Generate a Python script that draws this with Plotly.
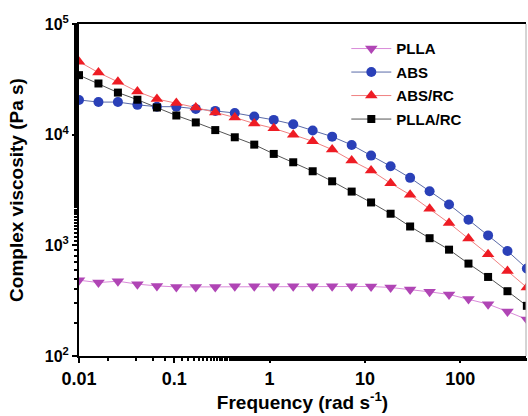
import plotly.graph_objects as go

freq = [0.01, 0.0160, 0.0256, 0.0410, 0.0657, 0.105, 0.168, 0.269, 0.431, 0.690,
        1.105, 1.769, 2.83, 4.53, 7.26, 11.6, 18.6, 29.8, 47.7, 76.3, 122, 196, 313, 500]

plla = [484, 461, 474, 446, 430, 421, 421, 421, 427, 427, 427, 427,
        427, 427, 427, 425, 416, 399, 380, 360, 328, 294, 252, 214]
abs_ = [20600, 19700, 19700, 18600, 17900, 17900, 17100, 16400, 15700, 14600, 13600, 12400,
        10900, 9600, 8070, 6470, 5180, 4070, 3080, 2340, 1700, 1230, 889, 617]
abs_rc = [45700, 36400, 30000, 24500, 21000, 19300, 17600, 15900, 14300, 12600, 11400, 10000,
          8700, 7330, 5830, 4740, 3640, 2860, 2140, 1590, 1150, 829, 586, 416]
plla_rc = [34500, 29000, 24000, 20700, 17600, 14900, 12900, 11000, 9470, 8130, 6700, 5630,
           4670, 3790, 3060, 2440, 1930, 1480, 1160, 914, 684, 518, 385, 284]

names = ["PLLA", "ABS", "ABS/RC", "PLLA/RC"]
series = [plla, abs_, abs_rc, plla_rc]
marker_colors = ["#b045b5", "#2a40b8", "#ee1c24", "#000000"]
line_colors = ["#d98ad9", "#5a6aa8", "#f08080", "#555555"]
symbols = ["triangle-down", "circle", "triangle-up", "square"]
sizes = [11, 10, 11, 8]

x_ticks = [0.01, 0.1, 1, 10, 100]
x_ticktext = ["0.01", "0.1", "1", "10", "100"]
y_ticks = [100, 1000, 10000, 100000]
y_ticktext = ["10<sup>2</sup>", "10<sup>3</sup>", "10<sup>4</sup>", "10<sup>5</sup>"]

FONT = "Arial, Liberation Sans, sans-serif"

fig = go.Figure()
for i, (nm, ys) in enumerate(zip(names, series)):
    fig.add_trace(go.Scatter(
        x=freq, y=ys, name=nm, mode="lines+markers",
        legendgroup=nm,
        line=dict(color=line_colors[i], width=1),
        marker=dict(symbol=symbols[i], size=sizes[i], color=marker_colors[i],
                    line=dict(width=0)),
        cliponaxis=True,
    ))

fig.update_layout(
    width=528, height=416,
    margin=dict(l=79, r=2, t=24, b=60),
    paper_bgcolor="white", plot_bgcolor="white",
    font=dict(family=FONT, color="black"),
    showlegend=True,
    legend=dict(
        x=0.598, y=0.975, xanchor="left", yanchor="top",
        bgcolor="rgba(0,0,0,0)",
        font=dict(size=15, family=FONT, weight="bold"),
        tracegroupgap=1,
        itemwidth=40,
    ),
)

fig.update_xaxes(
    type="log", range=[-2, 2.69], automargin=False,
    tickvals=x_ticks, ticktext=x_ticktext,
    ticks="outside", ticklen=5, tickwidth=1.5, tickcolor="black",
    minor=dict(ticks="outside", ticklen=3, tickcolor="black", showgrid=False),
    showline=True, linecolor="black", linewidth=2, mirror=True,
    showgrid=False, zeroline=False,
    tickfont=dict(size=18, family=FONT, weight="bold"),
    title=dict(text="Frequency (rad s<sup>-1</sup>)", standoff=0,
               font=dict(size=19, family=FONT, weight="bold")),
)
fig.update_yaxes(
    type="log", range=[2, 5], automargin=False,
    tickvals=y_ticks, ticktext=y_ticktext,
    ticks="outside", ticklen=5, tickwidth=1.5, tickcolor="black",
    minor=dict(ticks="outside", ticklen=3, tickcolor="black", showgrid=False),
    showline=True, linecolor="black", linewidth=2, mirror=False,
    showgrid=False, zeroline=False,
    tickfont=dict(size=16, family=FONT, weight="bold"),
    title=dict(text="Complex viscosity (Pa s)", standoff=16,
               font=dict(size=19, family=FONT, weight="bold")),
)

fig.add_shape(type="line", xref="paper", yref="paper", x0=1, x1=1, y0=0, y1=1,
              line=dict(color="#aaaaaa", width=1))

fig.write_html("out.html", config={"displayModeBar": False},
               post_script="document.body.style.margin='0px';")
